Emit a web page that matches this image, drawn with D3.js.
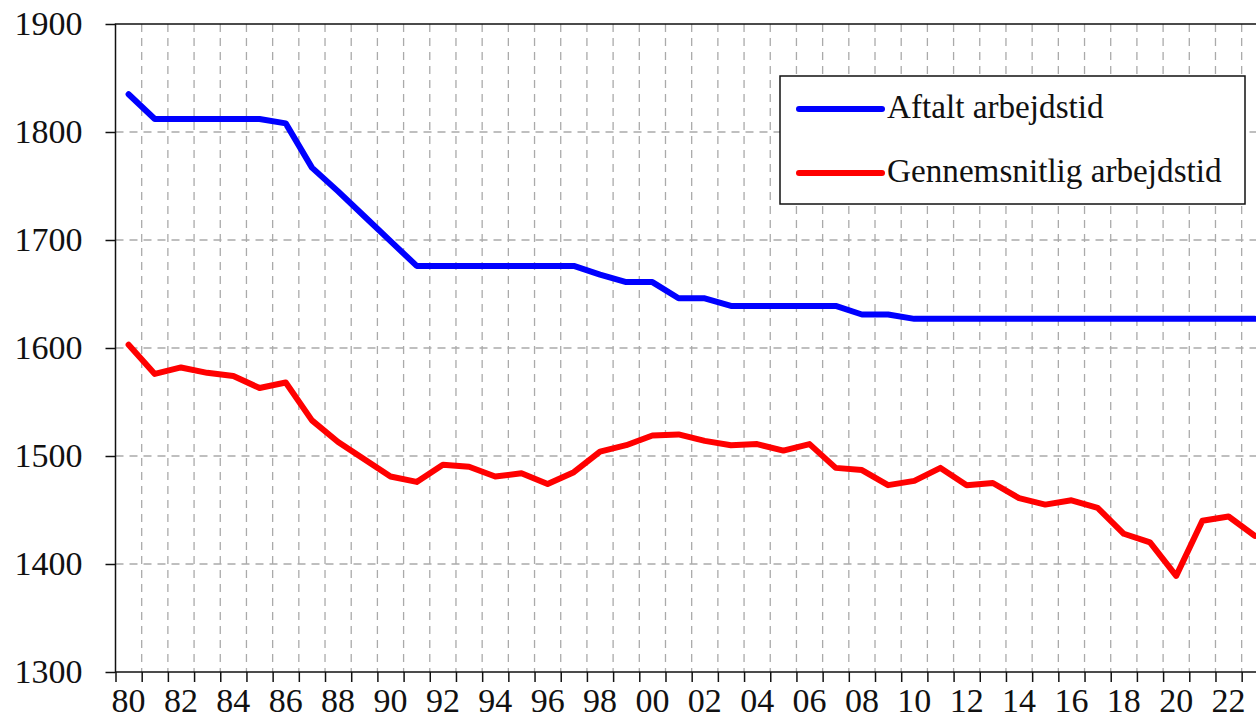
<!DOCTYPE html>
<html>
<head>
<meta charset="utf-8">
<script src="https://cdn.jsdelivr.net/npm/d3@7.9.0/dist/d3.min.js"></script>
<style>
  body { margin: 0; background: #fff; }
  svg { display: block; }
  svg text { font-family: 'Liberation Serif', 'DejaVu Serif', serif; }
</style>
</head>
<body>
<svg id="chart" width="1256" height="718"></svg>
<script>
const years = d3.range(1980, 2024);

const aftalt = [
  1835, 1812, 1812, 1812, 1812, 1812, 1808, 1767, 1745, 1722,
  1699, 1676, 1676, 1676, 1676, 1676, 1676, 1676, 1668, 1661,
  1661, 1646, 1646, 1639, 1639, 1639, 1639, 1639, 1631, 1631,
  1627, 1627, 1627, 1627, 1627, 1627, 1627, 1627, 1627, 1627,
  1627, 1627, 1627, 1627,
];

const gennemsnitlig = [
  1603, 1576, 1582, 1577, 1574, 1563, 1568, 1533, 1513, 1497,
  1481, 1476, 1492, 1490, 1481, 1484, 1474, 1485, 1504, 1510,
  1519, 1520, 1514, 1510, 1511, 1505, 1511, 1489, 1487, 1473,
  1477, 1489, 1473, 1475, 1461, 1455, 1459, 1452, 1428, 1420,
  1389, 1440, 1444, 1426,
];

const yTicks = [1300, 1400, 1500, 1600, 1700, 1800, 1900];
const seriesNames = ['Aftalt arbejdstid', 'Gennemsnitlig arbejdstid'];
const seriesColors = ['#0000ff', '#ff0000'];

const plotLeft = 115.5;
const plotTop = 24;
const plotBottom = 672;
const yearWidth = 26.19;

const x = d3
  .scaleLinear()
  .domain([1979.5, 2023.5])
  .range([plotLeft, plotLeft + 44 * yearWidth]);

const y = d3.scaleLinear().domain([1300, 1900]).range([plotBottom, plotTop]);

const svg = d3.select('#chart');

const boundaries = d3.range(1980.5, 2023.5, 1);

// grid
svg
  .append('g')
  .selectAll('line')
  .data(boundaries)
  .join('line')
  .attr('x1', (d) => x(d))
  .attr('x2', (d) => x(d))
  .attr('y1', plotTop)
  .attr('y2', plotBottom)
  .attr('stroke', '#aaa')
  .attr('stroke-width', 1.3)
  .attr('stroke-dasharray', '8,6');

svg
  .append('g')
  .selectAll('line')
  .data(yTicks.slice(1, -1))
  .join('line')
  .attr('x1', plotLeft)
  .attr('x2', x(2023.5))
  .attr('y1', (d) => y(d))
  .attr('y2', (d) => y(d))
  .attr('stroke', '#aaa')
  .attr('stroke-width', 1.3)
  .attr('stroke-dasharray', '8,6');

// axes
const yAxis = d3
  .axisLeft(y)
  .tickValues(yTicks)
  .tickSize(10)
  .tickPadding(23)
  .tickFormat(d3.format('d'));

svg
  .append('g')
  .attr('transform', `translate(${plotLeft},0)`)
  .call(yAxis)
  .attr('font-family', null)
  .call((g) => g.select('.domain').remove())
  .call((g) => g.selectAll('line').attr('stroke', '#111').attr('stroke-width', 1.5))
  .call((g) =>
    g.selectAll('text').attr('fill', '#111').style('font-size', '34px'),
  );

const xAxis = d3
  .axisBottom(x)
  .tickValues([1979.5, ...boundaries])
  .tickSize(10)
  .tickFormat('');

svg
  .append('g')
  .attr('transform', `translate(0,${plotBottom})`)
  .call(xAxis)
  .call((g) => g.select('.domain').remove())
  .call((g) => g.selectAll('line').attr('stroke', '#111').attr('stroke-width', 1.5));

svg
  .append('g')
  .selectAll('text')
  .data(years.filter((d) => d % 2 === 0))
  .join('text')
  .attr('x', (d) => x(d))
  .attr('y', 712)
  .attr('text-anchor', 'middle')
  .attr('fill', '#111')
  .style('font-size', '34px')
  .text((d) => d3.format('02d')(d % 100));

svg
  .append('rect')
  .attr('x', plotLeft)
  .attr('y', plotTop)
  .attr('width', x(2023.5) - plotLeft)
  .attr('height', plotBottom - plotTop)
  .attr('fill', 'none')
  .attr('stroke', '#111')
  .attr('stroke-width', 1.5);

// series
const line = d3
  .line()
  .x((d, i) => x(years[i]))
  .y((d) => y(d));

[aftalt, gennemsnitlig].forEach((values, i) => {
  svg
    .append('path')
    .datum(values)
    .attr('d', line)
    .attr('fill', 'none')
    .attr('stroke', seriesColors[i])
    .attr('stroke-width', 6)
    .attr('stroke-linejoin', 'round')
    .attr('stroke-linecap', 'round');
});

// legend
const legend = svg.append('g');

legend
  .append('rect')
  .attr('x', 780)
  .attr('y', 76)
  .attr('width', 465)
  .attr('height', 128)
  .attr('fill', '#fff')
  .attr('stroke', '#111')
  .attr('stroke-width', 1.5);

const legendRows = legend
  .selectAll('g')
  .data(seriesNames)
  .join('g')
  .attr('transform', (d, i) => `translate(0,${109 + i * 64})`);

legendRows
  .append('line')
  .attr('x1', 799)
  .attr('x2', 882)
  .attr('stroke', (d, i) => seriesColors[i])
  .attr('stroke-width', 6)
  .attr('stroke-linecap', 'round');

legendRows
  .append('text')
  .attr('x', 887)
  .attr('y', 9)
  .attr('fill', '#111')
  .style('font-size', '33.2px')
  .text((d) => d);
</script>
</body>
</html>
